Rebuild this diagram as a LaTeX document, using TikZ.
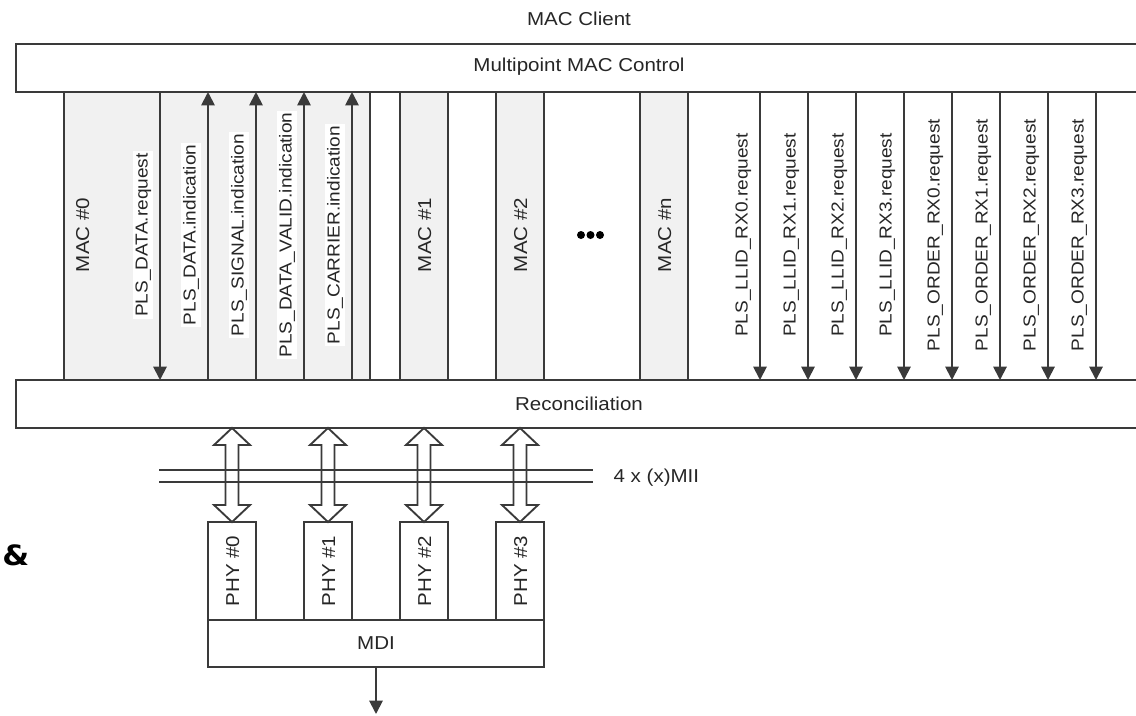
\documentclass[tikz,border=0pt]{standalone}
\usepackage{fontspec}
\setmainfont[FakeStretch=1.1]{Liberation Sans}
\newfontfamily\ampfont{DejaVu Sans}
\usetikzlibrary{arrows.meta}
\definecolor{ln}{HTML}{3A3A3A}
\definecolor{colfill}{HTML}{F1F1F1}
\definecolor{txt}{HTML}{262626}
\tikzset{
  box/.style={draw=ln, line width=1.4pt, inner sep=0pt, outer sep=0pt, fill=white},
  lbl/.style={font=\fontsize{14}{16}\selectfont, text=txt, inner sep=1pt},
  vlbl/.style={font=\fontsize{13}{15}\selectfont, text=txt, rotate=90, fill=white, inner sep=1.5pt, anchor=base},
  mlbl/.style={lbl, rotate=90, anchor=base},
  sig/.style={draw=ln, line width=1.4pt},
  tip/.style={-{Triangle[width=10pt,length=10pt]}},
  dblarrow/.style={draw=ln, line width=1.4pt, line join=miter},
}
\begin{document}
\begin{tikzpicture}[x=0.75pt,y=-0.75pt]
\useasboundingbox (0,0) rectangle (1136,715);
% column fills
\fill[colfill] (64,92) rectangle (370,380);
\foreach \a/\b in {400/448,496/544,640/688} \fill[colfill] (\a,92) rectangle (\b,380);
% main boxes
\node[box, minimum width=843pt, minimum height=36pt] (mpc) at (578,68) {};
\node[lbl, anchor=base] (mpct) at (579,71) {Multipoint MAC Control};
\node[box, minimum width=843pt, minimum height=36pt] (rec) at (578,404) {};
\node[lbl, anchor=base] (rect) at (579,410) {Reconciliation};
\node[lbl, anchor=base] (client) at (579,25) {MAC Client};
% column borders
\foreach \x in {64,370,400,448,496,544,640,688} {
  \coordinate (c) at (\x,0);
  \draw[sig] (c |- mpc.south) -- (c |- rec.north);
}
% MAC labels
\node[mlbl] (mac0) at (89,235) {MAC \#0};
\node[mlbl] (mac1) at (431,235) {MAC \#1};
\node[mlbl] (mac2) at (527,235) {MAC \#2};
\node[mlbl] (macn) at (671,235) {MAC \#n};
% dots
\foreach \x in {581,590.5,600} \fill[black] (\x,235) circle[radius=3pt];
% down arrow request
\coordinate (a1) at (160,0);
\draw[sig,tip] (a1 |- mpc.south) -- (a1 |- rec.north);
\node[vlbl] (l1) at (147.5,235) {PLS\_DATA.request};
% up arrows
\foreach \x/\t in {208/PLS\_DATA.indication,256/PLS\_SIGNAL.indication,304/PLS\_DATA\_VALID.indication,352/PLS\_CARRIER.indication} {
  \coordinate (u) at (\x,0);
  \draw[sig,tip] (u |- rec.north) -- (u |- mpc.south);
  \node[vlbl] at (\x-12.5,235) {\t};
}
% right down arrows
\foreach \x/\t in {760/PLS\_LLID\_RX0.request,808/PLS\_LLID\_RX1.request,856/PLS\_LLID\_RX2.request,904/PLS\_LLID\_RX3.request,952/PLS\_ORDER\_RX0.request,1000/PLS\_ORDER\_RX1.request,1048/PLS\_ORDER\_RX2.request,1096/PLS\_ORDER\_RX3.request} {
  \coordinate (d) at (\x,0);
  \draw[sig,tip] (d |- mpc.south) -- (d |- rec.north);
  \node[vlbl] at (\x-12.5,235) {\t};
}
% PHY boxes and MDI
\node[box, minimum width=252pt, minimum height=35.25pt] (mdi) at (376,643.5) {};
\node[lbl, anchor=base] (mdit) at (376,649) {MDI};
\foreach \x/\n in {232/0,328/1,424/2,520/3} {
  \node[box, minimum width=36pt, minimum height=73.5pt] (phy\n) at (\x,571) {};
  \node[mlbl] at (\x+7,571) {PHY \#\n};
  \draw[dblarrow] (phy\n.north |- rec.south) -- ++(18,17) -- ++(-11.5,0) -- ++(0,60) -- ++(11.5,0)
     -- (phy\n.north) -- ++(-18,-17) -- ++(11.5,0) -- ++(0,-60) -- ++(-11.5,0) -- cycle;
}
% bus lines
\coordinate (busL1) at (159,470);
\coordinate (busR1) at (593,470);
\coordinate (busL2) at (159,482);
\coordinate (busR2) at (593,482);
\draw[sig] (busL1) -- (busR1);
\draw[sig] (busL2) -- (busR2);
\node[lbl, anchor=base west] (mii) at (612,482) {4 x (x)MII};
% output arrow
\coordinate (out) at (376,714);
\draw[sig,tip] (mdi.south) -- (out);
% stray glyph
\node[font=\ampfont\bfseries\fontsize{21}{24}\selectfont, text=black, anchor=base west, inner sep=0pt, xscale=1.1] (amp) at (2,565) {\&};
\end{tikzpicture}
\end{document}
